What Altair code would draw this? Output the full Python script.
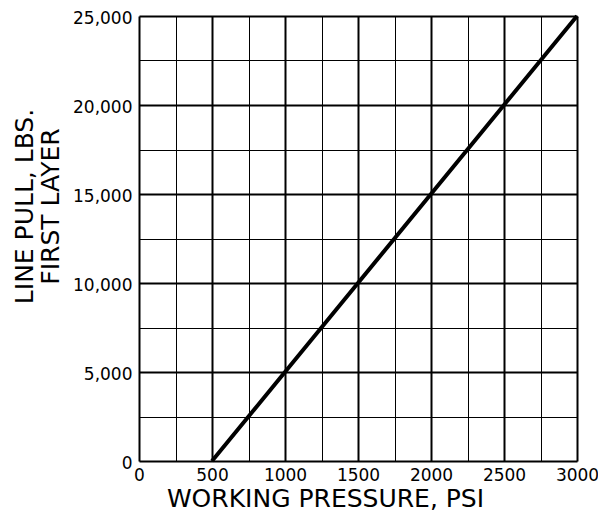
import altair as alt
import pandas as pd

# Data
pressure = [500, 1000, 1500, 2000, 2500, 3000]          # PSI
line_pull = [0, 5000, 10000, 15000, 20000, 25000]       # LBS, first layer

x_ticks = list(range(0, 3001, 250))
y_ticks = list(range(0, 25001, 2500))

df = pd.DataFrame({"pressure": pressure, "pull": line_pull})

FONT = "DejaVu Sans"

x_axis = alt.Axis(
    values=x_ticks,
    labelExpr="datum.value % 500 === 0 ? datum.label : ''",
    format="d",
    ticks=False,
    domain=False,
    grid=True,
    gridColor="black",
    gridOpacity=1,
    gridWidth={"condition": {"test": "datum.value % 500 === 0", "value": 2}, "value": 1},
    labelFont=FONT,
    labelFontSize=17,
    labelColor="black",
    labelPadding=6,
    labelFlush=False,
    title="WORKING PRESSURE, PSI",
    titleFont=FONT,
    titleFontSize=25,
    titleFontWeight="normal",
    titleColor="black",
    titleBaseline="alphabetic",
    titleAlign="center",
    titleX=186,
    titleY=45,
)

y_axis = alt.Axis(
    values=y_ticks,
    labelExpr="datum.value % 5000 === 0 ? format(datum.value, ',') : ''",
    ticks=False,
    domain=False,
    grid=True,
    gridColor="black",
    gridOpacity=1,
    gridWidth={"condition": {"test": "datum.value % 5000 === 0", "value": 2}, "value": 1},
    labelFont=FONT,
    labelFontSize=17,
    labelColor="black",
    labelPadding=7,
    labelOffset=2,
    labelFlush=False,
    title=["LINE PULL, LBS.", "FIRST LAYER"],
    titleFont=FONT,
    titleFontSize=25,
    titleFontWeight="normal",
    titleColor="black",
    titleBaseline="alphabetic",
    titleAlign="center",
    titleAngle=270,
    titleLineHeight=26,
    titleX=-107,
    titleY=190,
)

chart = (
    alt.Chart(df)
    .mark_line(color="black", strokeWidth=4)
    .encode(
        x=alt.X("pressure:Q", scale=alt.Scale(domain=[0, 3000], nice=False), axis=x_axis),
        y=alt.Y("pull:Q", scale=alt.Scale(domain=[0, 25000], nice=False), axis=y_axis),
    )
    .properties(
        width=438,
        height=445,
        autosize=alt.AutoSizeParams(type="none"),
        padding={"left": 131, "top": 8, "right": 21, "bottom": 51},
    )
    .configure_view(stroke="black", strokeWidth=2.5)
    .configure(background="white")
)

chart.save("out.html", embed_options={"renderer": "svg", "actions": False})
